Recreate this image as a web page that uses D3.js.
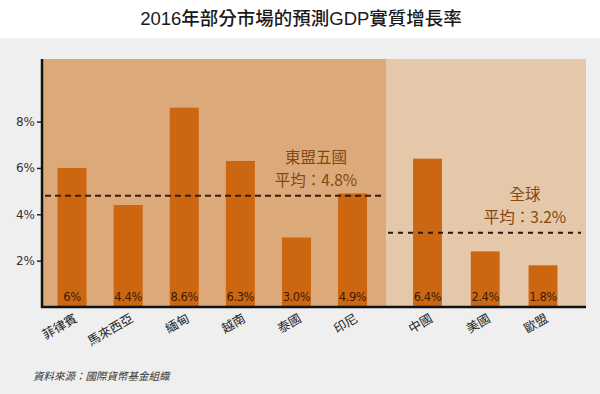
<!DOCTYPE html>
<html><head><meta charset="utf-8">
<script src="https://cdn.jsdelivr.net/npm/d3@7"></script>
<style>
body{margin:0;background:#fff;}
svg{display:block;}
</style></head>
<body>
<svg id="c" width="600" height="394"></svg>
<script>
const title = "2016年部分市場的預測GDP實質增長率";
const aseanCats = ["菲律賓","馬來西亞","緬甸","越南","泰國","印尼"];
const aseanVals = [6.0, 4.4, 8.6, 6.3, 3.0, 4.9];
const aseanLabels = ["6%","4.4%","8.6%","6.3%","3.0%","4.9%"];
const globalCats = ["中國","美國","歐盟"];
const globalVals = [6.4, 2.4, 1.8];
const globalLabels = ["6.4%","2.4%","1.8%"];
const aseanAvg = 4.8;
const globalAvg = 3.2;
const aseanNote = ["東盟五國","平均：4.8%"];
const globalNote = ["全球","平均：3.2%"];
const yTicks = [2,4,6,8];
const source = "資料來源：國際貨幣基金組織";

(function(){
const svg = d3.select("#c");
const CJK = "'Noto Sans CJK TC','Noto Sans CJK SC',sans-serif";
const LAT = "'DejaVu Sans',Verdana,sans-serif";

svg.append("rect").attr("x",0).attr("y",38).attr("width",600).attr("height",356).attr("fill","#efefef");
svg.append("text").attr("x",301).attr("y",25).attr("text-anchor","middle")
  .attr("font-family","Arial,'Liberation Sans',"+CJK).attr("font-size",18.5).attr("font-weight",500).attr("fill","#1a1a1a").text(title);

const pL=42, pR=586, pT=59, pB=307, split=386;
const y = d3.scaleLinear().domain([0,10.7]).range([pB,pT]);
const xA = d3.scaleBand().domain(aseanCats).range([44,380.6]).paddingInner(0.483).paddingOuter(0.2415);
const xG = d3.scaleBand().domain(globalCats).range([398.6,571.9]).paddingInner(0.5).paddingOuter(0.25);

svg.append("rect").attr("x",pL).attr("y",pT).attr("width",split-pL).attr("height",pB-pT).attr("fill","#dca97b");
svg.append("rect").attr("x",split).attr("y",pT).attr("width",pR-split).attr("height",pB-pT).attr("fill","#e5c7aa");

function group(cats, vals, labels, x){
  const g = svg.append("g");
  g.selectAll("rect").data(cats).enter().append("rect")
    .attr("x",d=>x(d)).attr("width",x.bandwidth())
    .attr("y",(d,i)=>y(vals[i])).attr("height",(d,i)=>y(0)-y(vals[i]))
    .attr("fill","#cc6610");
  g.selectAll("text.v").data(cats).enter().append("text").attr("class","v")
    .attr("x",d=>x(d)+x.bandwidth()/2).attr("y",pB-6).attr("text-anchor","middle")
    .attr("font-family",LAT).attr("font-size",11.5).attr("letter-spacing",-0.4).attr("fill","#3b1c05")
    .text((d,i)=>labels[i]);
  g.selectAll("text.c").data(cats).enter().append("text").attr("class","c")
    .attr("transform",d=>`translate(${x(d)+x.bandwidth()/2+6},${pB+14}) rotate(-30)`)
    .attr("text-anchor","end").attr("font-family",CJK).attr("font-size",12.5).attr("fill","#222")
    .text(d=>d);
}
group(aseanCats, aseanVals, aseanLabels, xA);
group(globalCats, globalVals, globalLabels, xG);

svg.append("line").attr("x1",45).attr("x2",382).attr("y1",y(aseanAvg)).attr("y2",y(aseanAvg))
  .attr("stroke","#3a1e0a").attr("stroke-width",2).attr("stroke-dasharray","6,4");
svg.append("line").attr("x1",388).attr("x2",581).attr("y1",y(globalAvg)).attr("y2",y(globalAvg))
  .attr("stroke","#2a1a0a").attr("stroke-width",2).attr("stroke-dasharray","5,5");

function note(lines, cx, lineY){
  lines.forEach((t,i)=>svg.append("text").attr("x",cx).attr("y",lineY-33+i*23).attr("text-anchor","middle")
    .attr("font-family",CJK).attr("font-size",15.5).attr("fill","#86460f").text(t));
}
note(aseanNote, 316, y(aseanAvg));
note(globalNote, 525, y(globalAvg));

const ya = svg.append("g").attr("transform",`translate(${pL},0)`)
  .call(d3.axisLeft(y).tickValues(yTicks).tickFormat(d=>d+"%").tickSize(5).tickSizeOuter(0));
ya.select(".domain").remove();
ya.selectAll(".tick line").attr("stroke","#222").attr("stroke-width",1.5);
ya.selectAll(".tick text").attr("font-family",LAT).attr("font-size",12).attr("fill","#333").attr("x",-7);
svg.append("line").attr("x1",pL).attr("x2",pL).attr("y1",pT).attr("y2",pB+1).attr("stroke","#111").attr("stroke-width",2.5);
svg.append("line").attr("x1",pL-1).attr("x2",pR).attr("y1",pB).attr("y2",pB).attr("stroke","#111").attr("stroke-width",2.5);

svg.append("text").attr("x",33).attr("y",380).attr("font-family",CJK).attr("font-size",10.5)
  .attr("font-style","italic").attr("fill","#333").text(source);
})();
</script>
</body></html>
